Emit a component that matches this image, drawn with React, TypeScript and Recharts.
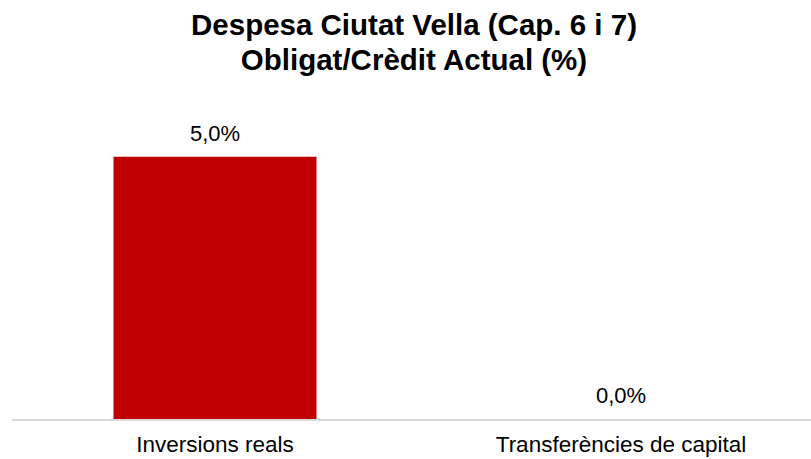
import { Bar, BarChart, XAxis, YAxis, LabelList, Cell } from 'recharts';

const categories = ['Inversions reals', 'Transferències de capital'];
const values = [5.0, 0.0];

const chartData = categories.map((name, i) => ({ name, value: values[i] }));

const font = '"Liberation Sans", Arial, sans-serif';

const formatPct = (v: number) => `${v.toFixed(1).replace('.', ',')}%`;

export default function App() {
  return (
    <div
      style={{
        position: 'absolute',
        left: 0,
        top: 0,
        width: 811,
        height: 459,
        overflow: 'hidden',
        background: '#fff',
        fontFamily: font,
      }}
    >
      <div
        style={{
          position: 'absolute',
          left: 0,
          top: 7,
          width: 828,
          textAlign: 'center',
          fontWeight: 'bold',
          fontSize: 29.5,
          lineHeight: '35px',
          color: '#000',
        }}
      >
        Despesa Ciutat Vella (Cap. 6 i 7)
        <br />
        Obligat/Crèdit Actual (%)
      </div>
      <BarChart
        width={830}
        height={459}
        data={chartData}
        margin={{ top: 104, right: 6, left: 12, bottom: 0 }}
        barCategoryGap="25%"
        style={{ position: 'absolute', left: 0, top: 0 }}
      >
        <XAxis
          dataKey="name"
          height={39}
          axisLine={{ stroke: '#d9d9d9', strokeWidth: 2 }}
          tickLine={false}
          tickMargin={10}
          tick={{ fill: '#000', fontSize: 22.5, fontFamily: font }}
        />
        <YAxis hide domain={[0, 6]} />
        <Bar dataKey="value" fill="#c00000" minPointSize={1} isAnimationActive={false}>
          {chartData.map((d, i) => (
            <Cell key={i} fill={d.value > 0 ? '#c00000' : 'transparent'} />
          ))}
          <LabelList
            dataKey="value"
            position="top"
            offset={16}
            formatter={(v: any) => formatPct(Number(v))}
            style={{ fill: '#000', fontSize: 22, fontFamily: font }}
          />
        </Bar>
      </BarChart>
    </div>
  );
}
